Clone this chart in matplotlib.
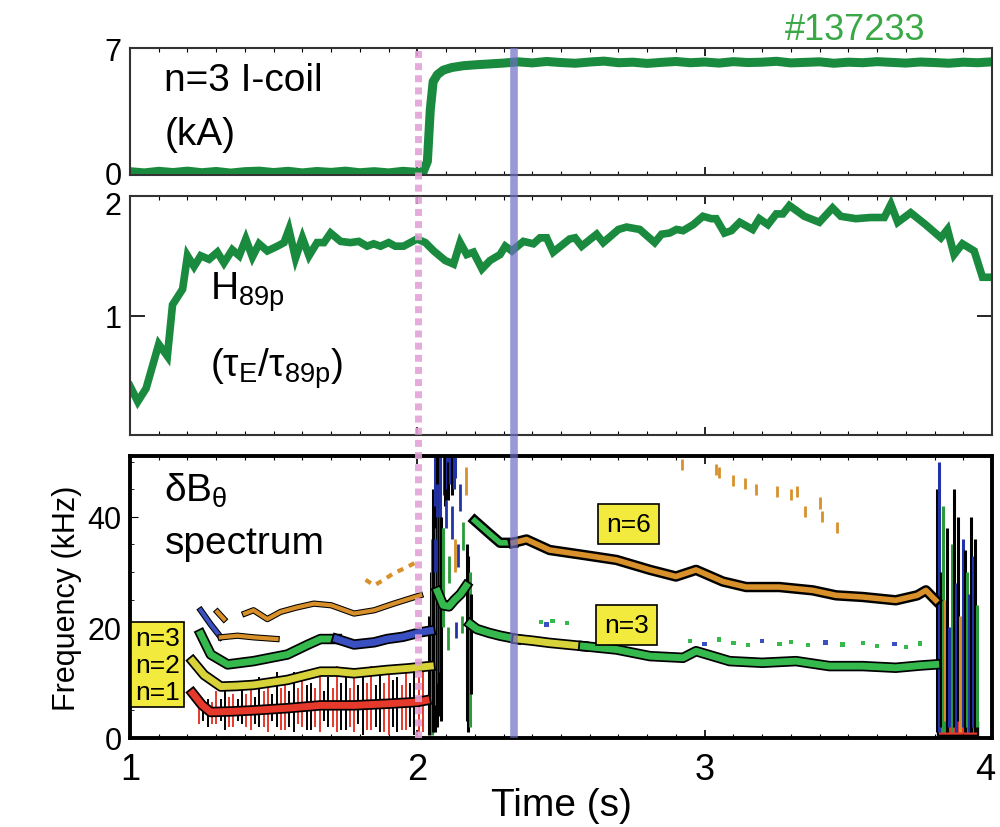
import numpy as np
import matplotlib.pyplot as plt
import matplotlib.patheffects as pe
import matplotlib.transforms as mtransforms

plt.rcParams['font.family'] = ['Liberation Sans', 'DejaVu Sans']
plt.rcParams['mathtext.fontset'] = 'custom'
plt.rcParams['mathtext.rm'] = 'Liberation Sans'

# I-coil current (kA)
coil_t_pre = np.linspace(1.0, 2.0, 21)
coil_pre = [0.02, -0.05, 0.04, -0.03, 0.05, -0.04, 0.03, -0.06, 0.02, 0.05, -0.03,
            0.04, -0.05, 0.03, -0.02, 0.05, -0.04, 0.02, -0.05, 0.04, -0.02]
coil_t_rise = [2.02, 2.035, 2.045, 2.055, 2.07, 2.09, 2.12, 2.16, 2.20, 2.25, 2.30]
coil_rise = [0.0, 0.6, 3.5, 5.1, 5.5, 5.75, 5.9, 6.0, 6.05, 6.1, 6.15]
coil_t_post = np.linspace(2.35, 4.0, 34)
coil_post = [6.22, 6.16, 6.24, 6.18, 6.14, 6.21, 6.26, 6.17, 6.20, 6.13, 6.19, 6.24,
             6.17, 6.21, 6.15, 6.23, 6.18, 6.20, 6.25, 6.16, 6.19, 6.22, 6.14, 6.20,
             6.17, 6.23, 6.19, 6.15, 6.21, 6.18, 6.14, 6.20, 6.17, 6.22]

# H89p confinement factor
h_t = [1.0, 1.027, 1.056, 1.10, 1.13, 1.148, 1.183, 1.20, 1.223, 1.246, 1.275, 1.304,
       1.327, 1.356, 1.38, 1.403, 1.426, 1.449, 1.478, 1.513, 1.536, 1.553, 1.576, 1.60,
       1.623, 1.651, 1.675, 1.698, 1.733, 1.767, 1.796, 1.825, 1.848, 1.872, 1.90, 1.923,
       1.952, 1.999, 2.028, 2.057, 2.097, 2.126, 2.149, 2.172, 2.195, 2.225, 2.253, 2.288,
       2.306, 2.329, 2.369, 2.404, 2.427, 2.45, 2.473, 2.53, 2.549, 2.572, 2.624, 2.647,
       2.70, 2.728, 2.774, 2.826, 2.85, 2.878, 2.902, 2.925, 2.96, 2.994, 3.023, 3.04,
       3.069, 3.093, 3.122, 3.167, 3.19, 3.22, 3.249, 3.272, 3.295, 3.347, 3.399, 3.445,
       3.474, 3.526, 3.578, 3.625, 3.648, 3.672, 3.717, 3.769, 3.822, 3.845, 3.868, 3.897,
       3.938, 3.967, 3.995]
h_val = [0.41, 0.28, 0.39, 0.76, 0.66, 1.09, 1.22, 1.50, 1.41, 1.50, 1.47, 1.53,
         1.44, 1.55, 1.50, 1.64, 1.49, 1.60, 1.54, 1.58, 1.61, 1.72, 1.48, 1.65,
         1.50, 1.61, 1.61, 1.69, 1.62, 1.61, 1.62, 1.58, 1.60, 1.58, 1.61, 1.58,
         1.58, 1.64, 1.61, 1.54, 1.46, 1.43, 1.61, 1.51, 1.53, 1.39, 1.46, 1.51,
         1.58, 1.54, 1.62, 1.60, 1.65, 1.65, 1.53, 1.64, 1.65, 1.58, 1.68, 1.61,
         1.72, 1.74, 1.72, 1.61, 1.68, 1.69, 1.72, 1.71, 1.76, 1.83, 1.81, 1.81,
         1.69, 1.71, 1.78, 1.72, 1.81, 1.76, 1.85, 1.85, 1.92, 1.83, 1.78, 1.90,
         1.83, 1.81, 1.82, 1.82, 1.93, 1.78, 1.86, 1.76, 1.65, 1.72, 1.51, 1.60,
         1.54, 1.32, 1.32]

# mode frequencies (kHz)
n1_t = [1.218, 1.25, 1.28, 1.35, 1.43, 1.55, 1.663, 1.78, 1.90, 2.0, 2.03]
n1_f = [8.1, 6.0, 4.7, 4.8, 5.0, 5.4, 5.9, 5.9, 6.2, 6.5, 6.8]
n2_t = [1.218, 1.258, 1.316, 1.37, 1.43, 1.548, 1.663, 1.72, 1.78, 1.895, 1.97, 2.045]
n2_f = [13.9, 11.4, 9.3, 9.4, 9.6, 10.5, 12.0, 12.0, 11.7, 12.3, 12.6, 13.0]
n3a_t = [1.246, 1.281, 1.34, 1.43, 1.548, 1.62, 1.663, 1.72]
n3a_f = [18.8, 15.1, 13.3, 13.9, 15.1, 16.9, 17.9, 17.9]
n3b_t = [1.72, 1.78, 1.85, 1.895, 1.95, 2.01, 2.045]
n3b_f = [17.9, 16.9, 17.3, 17.9, 18.3, 19.1, 19.4]
n4a_t = [1.246, 1.28, 1.316]
n4a_f = [23.1, 20.6, 18.2]
n4b_t = [1.316, 1.374, 1.43, 1.51]
n4b_f = [18.2, 18.5, 18.2, 17.9]
up_t = [1.304, 1.327, np.nan, 1.40, 1.43, 1.478, 1.524, 1.58, 1.64, 1.70, 1.78, 1.85, 1.918, 2.01]
up_f = [22.8, 21.5, np.nan, 22.5, 23.1, 21.5, 22.8, 23.6, 24.3, 24.0, 22.5, 23.1, 24.3, 25.8]
top_t = [1.82, 1.85, 1.88, 1.918, 1.96, 2.0]
top_f = [28.6, 27.6, 28.5, 29.8, 30.8, 31.9]
burst_mode_t = [2.07, 2.09, 2.11, 2.13, 2.15, 2.17]
burst_mode_f = [26.5, 24.0, 23.8, 25.0, 26.0, 27.5]
n6_t = [2.20, 2.25, 2.288, 2.334, 2.38, 2.46, 2.578, 2.693, 2.81, 2.90, 2.97, 3.063,
        3.144, 3.26, 3.376, 3.457, 3.55, 3.665, 3.74, 3.77, 3.804]
n6_f = [39.3, 37.0, 35.3, 35.3, 35.9, 34.0, 33.1, 32.2, 30.4, 29.2, 30.4, 28.3,
        27.3, 27.3, 26.7, 25.8, 25.5, 24.9, 25.8, 26.7, 24.9]
n3c_t = [2.184, 2.207, 2.25, 2.288, 2.346, 2.40, 2.46, 2.578, 2.693, 2.81, 2.925, 2.97,
         3.087, 3.2, 3.318, 3.434, 3.55, 3.665, 3.75, 3.804]
n3c_f = [20.6, 19.7, 19.0, 18.5, 17.9, 17.6, 17.2, 16.6, 16.0, 14.8, 14.5, 15.7,
         13.9, 13.6, 13.9, 13.0, 13.0, 12.7, 13.1, 13.3]

# broadband streaks under the n=1 mode
sp_t = [1.24, 1.27, 1.30, 1.33, 1.36, 1.39, 1.42, 1.45, 1.48, 1.51, 1.54, 1.57, 1.60, 1.63,
        1.66, 1.69, 1.72, 1.75, 1.78, 1.81, 1.84, 1.87, 1.90, 1.93, 1.96, 1.99, 2.02]
sp_lo = [2.5, 2, 2.5, 1.5, 2, 2.5, 1.5, 2, 1, 2, 1.5, 1, 2, 1.5, 1, 2, 1, 1.5, 1, 0.5,
         1.5, 1, 0.5, 1, 1.5, 0.5, 1]
sp_hi = [8, 7, 8.5, 9, 8, 10, 9, 11, 10, 12, 10, 12, 11, 10, 12, 11, 13, 11, 12, 11, 13,
         12, 12, 11, 13, 12, 13]
sp2_t = [1.255, 1.285, 1.315, 1.345, 1.375, 1.405, 1.435, 1.465, 1.495, 1.525, 1.555,
         1.585, 1.615, 1.645, 1.675, 1.705, 1.735, 1.765, 1.795, 1.825, 1.855, 1.885,
         1.915, 1.945, 1.975, 2.005]
sp2_lo = [3, 2.5, 3, 2, 3, 2, 2.5, 2, 3, 1.5, 2, 2.5, 1.5, 2, 3, 2, 1.5, 2, 2.5, 1.5,
          2, 1, 2, 1.5, 2, 1]
sp2_hi = [7, 6.5, 7, 7.5, 7, 8, 7.5, 8.5, 8, 9, 8.5, 9, 9.5, 9, 8.5, 9, 10, 9, 9.5, 10,
          9.5, 10, 10.5, 9.5, 10, 11]

# bursts near 2.05-2.19 s
ba_t = [2.042, 2.046, 2.050, 2.053, 2.056, 2.060, 2.063, 2.066, 2.070, 2.073, 2.077,
        2.080, 2.084, 2.088, 2.092, 2.097, 2.102, 2.108, 2.114, 2.120, 2.126, 2.132,
        2.174, 2.178, 2.182, 2.186]
ba_lo = [0.5, 1, 0.5, 2, 1, 3, 1, 6, 2, 10, 4, 12, 3, 20, 44, 42, 45, 43, 46, 44, 45,
         47, 3, 1, 2, 8]
ba_hi = [22, 30, 36, 40, 45, 51, 42, 38, 51, 42, 45, 51, 40, 38, 51, 51, 51, 50, 51, 51,
         51, 51, 35, 33, 30, 26]
ba_c = ['k', 'k', '#2a9a3a', 'k', 'k', '#2233aa', 'k', '#2a9a3a', 'k', '#2233aa', 'k',
        '#2233aa', 'k', '#2a9a3a', '#2233aa', 'k', '#2233aa', 'k', '#2233aa', 'k',
        '#2233aa', '#2233aa', 'k', 'k', '#2a9a3a', 'k']
bs_t = [2.06, 2.07, 2.09, 2.10, 2.11, 2.12, 2.13, 2.14, 2.15, 2.16, 2.17, 2.105, 2.135, 2.155]
bs_lo = [30, 40, 33, 38, 28, 36, 30, 31, 41, 34, 44, 16, 18, 19]
bs_hi = [36, 46, 38, 43, 33, 42, 36, 35, 46, 39, 49, 20, 21, 22]
bs_c = ['#2233aa', '#2233aa', '#2a9a3a', '#2233aa', '#2a9a3a', '#2233aa', '#d8902a',
        '#2233aa', '#2233aa', '#2a9a3a', '#d8902a', '#2a9a3a', '#2233aa', '#2a9a3a']

# burst near 3.8-3.95 s
bc_t = [3.810, 3.815, 3.822, 3.830, 3.838, 3.845, 3.852, 3.860, 3.868, 3.875, 3.882,
        3.890, 3.898, 3.905, 3.912, 3.920, 3.928, 3.935, 3.942, 3.948]
bc_lo = [1, 1, 2, 1, 3, 1, 2, 1, 2, 1, 3, 1, 2, 1, 2, 1, 1, 2, 1, 2]
bc_hi = [45, 50, 30, 42, 25, 38, 20, 35, 45, 28, 40, 22, 36, 34, 30, 26, 40, 33, 36, 24]
bc_c = ['k', '#2233aa', 'k', '#2a9a3a', '#d8902a', 'k', '#2233aa', '#2a9a3a', 'k',
        '#2233aa', 'k', '#d8902a', '#2233aa', 'k', '#2a9a3a', '#2233aa', 'k', '#2233aa',
        'k', '#2a9a3a']
blob_t = [3.81, 3.83, 3.86, 3.89, 3.92, 3.95]
blob_f = [6, 8, 7, 6, 5, 3]

# scattered weak spectral points
dot_t = [2.43, 2.45, 2.47, 2.52, 2.95, 3.0, 3.05, 3.1, 3.15, 3.2, 3.26, 3.3, 3.36, 3.42,
         3.48, 3.55, 3.6, 3.66, 3.7, 3.75]
dot_f = [21.0, 20.5, 21.2, 20.8, 17.5, 17.0, 17.8, 17.2, 16.8, 17.5, 17.0, 17.4, 16.8,
         17.3, 16.9, 17.2, 16.6, 17.0, 16.5, 17.1]
chirp_t = [2.92, 3.04, 3.05, 3.10, 3.14, 3.18, 3.25, 3.30, 3.32, 3.35, 3.40, 3.41, 3.46]
chirp_f = [49.5, 48.5, 48.0, 46.5, 46.0, 45.0, 44.5, 44.0, 44.5, 41.0, 42.5, 40.0, 38.0]

green = '#1a8a3e'
red = '#e5392c'
yellow = '#d8d23a'
mgreen = '#35b84c'
blue = '#3a4fc0'
orange = '#d8902a'

fig = plt.figure(figsize=(10, 8.28), dpi=100)
ax1 = fig.add_axes([0.130, 0.7874, 0.862, 0.1534])
ax2 = fig.add_axes([0.130, 0.4734, 0.862, 0.2887])
ax3 = fig.add_axes([0.130, 0.1075, 0.862, 0.3406])

for ax in (ax1, ax2, ax3):
    ax.set_xlim(1, 4)
    ax.set_xticks([1, 2, 3, 4])
    ax.set_xticks(np.linspace(1, 4, 31), minor=True)
    ax.tick_params(axis='x', which='both', direction='in', top=True, bottom=True)
    ax.tick_params(axis='x', which='major', length=6, width=1.2)
    ax.tick_params(axis='x', which='minor', length=3, width=0.8)
    ax.tick_params(axis='y', labelsize=22, pad=6)
    for s in ax.spines.values():
        s.set_linewidth(1.5)
        s.set_color('#333333')

# top: coil current
ax1.plot(list(coil_t_pre) + coil_t_rise + list(coil_t_post),
         coil_pre + coil_rise + coil_post, color=green, lw=6.5, solid_joinstyle='round')
ax1.set_ylim(-0.17, 7)
ax1.set_yticks([0, 7])
ax1.tick_params(axis='y', length=0)
ax1.tick_params(axis='x', labelbottom=False)
ax1.text(0.04, 0.75, 'n=3 I-coil', transform=ax1.transAxes, fontsize=28, va='center')
ax1.text(0.04, 0.32, '(kA)', transform=ax1.transAxes, fontsize=28, va='center')
fig.text(0.855, 0.963, '#137233', color='#3aa845', fontsize=26, ha='center', va='center')

# middle: H89p
ax2.plot(h_t, h_val, color=green, lw=5.5, solid_joinstyle='miter')
ax2.set_ylim(0, 2)
ax2.set_yticks([1, 2])
ax2.tick_params(axis='y', direction='in', left=True, right=True, length=11, width=1.2)
ax2.tick_params(axis='x', labelbottom=False)
ax2.text(0.093, 0.60, r'$\mathregular{H_{89p}}$', transform=ax2.transAxes,
         fontsize=28, va='center')
ax2.text(0.093, 0.28, r'$\mathregular{(τ_E/τ_{89p})}$', transform=ax2.transAxes,
         fontsize=28, va='center')

# bottom: magnetic fluctuation spectrum
outline = [pe.Stroke(linewidth=7.5, foreground='black'), pe.Normal()]
thin_outline = [pe.Stroke(linewidth=4.5, foreground='black'), pe.Normal()]

ax3.vlines(sp_t, sp_lo, sp_hi, colors=[red, 'k'] * 14, lw=1.4)
ax3.vlines(sp2_t, sp2_lo, sp2_hi, colors=['k', red] * 13, lw=1.4)
ax3.vlines(ba_t, ba_lo, ba_hi, colors=ba_c, lw=2.2)
ax3.vlines(bs_t, bs_lo, bs_hi, colors=bs_c, lw=2.0)
ax3.vlines(bc_t, bc_lo, bc_hi, colors=bc_c, lw=2.2)
ax3.fill_between(blob_t, 0.5, blob_f, color=red, edgecolor='k', lw=1.5)
ax3.scatter(dot_t, dot_f, s=10, c=[mgreen, blue, mgreen, mgreen] * 5, marker='s', lw=0)
ax3.vlines(chirp_t, np.array(chirp_f) - 1.0, np.array(chirp_f) + 1.0, colors=orange, lw=2)

ax3.plot(up_t, up_f, color=orange, lw=3, path_effects=thin_outline)
ax3.plot(top_t, top_f, color=orange, lw=3, ls=(0, (1.5, 1.5)))
ax3.plot(n4a_t, n4a_f, color=blue, lw=3, path_effects=thin_outline)
ax3.plot(n4b_t, n4b_f, color=orange, lw=3, path_effects=thin_outline)
ax3.plot(n1_t, n1_f, color=red, lw=5, path_effects=outline)
ax3.plot(n2_t, n2_f, color=yellow, lw=5, path_effects=outline)
ax3.plot(n3a_t, n3a_f, color=mgreen, lw=5, path_effects=outline)
ax3.plot(n3b_t, n3b_f, color=blue, lw=5, path_effects=outline)
ax3.plot(burst_mode_t, burst_mode_f, color=mgreen, lw=5, path_effects=outline)
ax3.plot(n6_t[:4], n6_f[:4], color=mgreen, lw=4, path_effects=outline)
ax3.plot(n6_t[3:], n6_f[3:], color=orange, lw=4, path_effects=outline)
ax3.plot(n3c_t[:5], n3c_f[:5], color=mgreen, lw=5, path_effects=outline)
ax3.plot(n3c_t[4:8], n3c_f[4:8], color=yellow, lw=5, path_effects=outline)
ax3.plot(n3c_t[7:], n3c_f[7:], color=mgreen, lw=5, path_effects=outline)

ax3.set_ylim(0, 51)
ax3.set_yticks([0, 20, 40])
ax3.set_yticks(np.arange(0, 51, 5), minor=True)
ax3.tick_params(axis='y', which='both', direction='in', left=True, right=False)
ax3.tick_params(axis='y', which='major', length=6)
ax3.tick_params(axis='y', which='minor', length=3)
ax3.tick_params(axis='x', labelsize=26, pad=10)
ax3.set_xticklabels(['1', '2', '3', '4'])
for s in ax3.spines.values():
    s.set_linewidth(2.8)
    s.set_color('black')
ax3.set_ylabel('Frequency (kHz)', fontsize=22, labelpad=4)
ax3.set_xlabel('Time (s)', fontsize=28, labelpad=0)
ax3.text(0.04, 0.88, r'$\mathregular{δB_θ}$', transform=ax3.transAxes, fontsize=28, va='center')
ax3.text(0.04, 0.69, 'spectrum', transform=ax3.transAxes, fontsize=28, va='center')

box = dict(boxstyle='square,pad=0.15', facecolor='#f2ea3c', edgecolor='black', lw=1.2)
ax3.text(0.006, 0.26, 'n=3\nn=2\nn=1', transform=ax3.transAxes, fontsize=19,
         va='center', ha='left', linespacing=1.15, bbox=box)
ax3.text(0.578, 0.76, 'n=6', transform=ax3.transAxes, fontsize=19,
         va='center', ha='center', bbox=dict(box, boxstyle='square,pad=0.3'))
ax3.text(0.576, 0.40, 'n=3', transform=ax3.transAxes, fontsize=19,
         va='center', ha='center', bbox=dict(box, boxstyle='square,pad=0.3'))

# nudge the crowded tick labels
ax2.get_yticklabels()[1].set_transform(
    ax2.get_yticklabels()[1].get_transform()
    + mtransforms.ScaledTranslation(0, -7 / 100, fig.dpi_scale_trans))
ax3.get_xticklabels()[3].set_transform(
    ax3.get_xticklabels()[3].get_transform()
    + mtransforms.ScaledTranslation(-7 / 100, 0, fig.dpi_scale_trans))

# time markers across all panels
over = fig.add_axes([0.130, 0.1075, 0.862, 0.8333])
over.set_xlim(1, 4)
over.set_ylim(0, 1)
over.axis('off')
over.axvline(2.002, color='#e3a2d6', lw=5, ls=(0, (1.0, 0.75)), alpha=0.9)
over.axvline(2.336, ymin=0.006, ymax=0.996, color='#6e6ec4', lw=5.5, alpha=0.7)

fig.savefig('out.png', dpi=100)
